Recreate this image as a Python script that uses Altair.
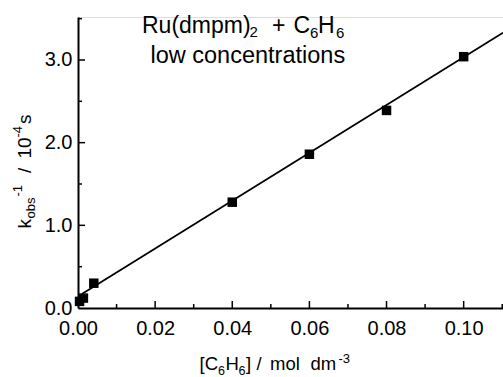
import altair as alt
import pandas as pd

# data
conc = [0.0004, 0.0014, 0.0041, 0.04, 0.06, 0.08, 0.10]
kinv = [0.08, 0.12, 0.30, 1.28, 1.86, 2.39, 3.04]
fit_x = [0.0010, 0.1102]
fit_y = [0.17, 3.33]
x_major = [0.02, 0.04, 0.06, 0.08, 0.10]
x_minor = [0.01, 0.03, 0.05, 0.07, 0.09, 0.11]
y_major = [1.0, 2.0, 3.0]
y_minor = [0.5, 1.5, 2.5, 3.5]
x_labels = [0.0, 0.02, 0.04, 0.06, 0.08, 0.10]
y_labels = [0.0, 1.0, 2.0, 3.0]

W, H = 425, 291
FONT = "Liberation Sans"
XD = [0, 0.1102]
YD = [0, 3.52]

pts = pd.DataFrame({"x": conc, "y": kinv})
fit = pd.DataFrame({"x": fit_x, "y": fit_y})

xs = alt.Scale(domain=XD, nice=False, zero=False)
ys = alt.Scale(domain=YD, nice=False, zero=False)

xaxis = alt.Axis(values=x_labels, format=".2f", title=None, tickSize=0, labelPadding=10,
                 labelFontSize=20, labelFont=FONT, labelColor="black", domainColor="black",
                 domainWidth=2, grid=False, labelFlush=False)
yaxis = alt.Axis(values=y_labels, format=".1f", title=None, tickSize=0, labelPadding=6,
                 labelFontSize=20, labelFont=FONT, labelColor="black", domainColor="black",
                 domainWidth=2, grid=False, labelFlush=False)

base_pts = alt.Chart(pts).mark_square(size=90, color="black", opacity=1).encode(
    x=alt.X("x:Q", scale=xs, axis=xaxis),
    y=alt.Y("y:Q", scale=ys, axis=yaxis),
)
line = alt.Chart(fit).mark_line(color="black", strokeWidth=1.8).encode(
    x=alt.X("x:Q", scale=xs), y=alt.Y("y:Q", scale=ys)
)

def xticks(vals, L):
    return alt.Chart(pd.DataFrame({"v": vals})).mark_rule(color="black", strokeWidth=1.5).encode(
        x=alt.X("v:Q", scale=xs), y=alt.value(H), y2=alt.value(H - L))

def yticks(vals, L):
    return alt.Chart(pd.DataFrame({"v": vals})).mark_rule(color="black", strokeWidth=1.5).encode(
        y=alt.Y("v:Q", scale=ys), x=alt.value(0), x2=alt.value(L))

def txt(s, x, y, size, angle=0):
    # x, y given in page pixels; convert to plot-area coordinates
    kw = dict(align="left", baseline="alphabetic", font=FONT, fontSize=size, color="black")
    if angle:
        kw["angle"] = angle
    return alt.Chart(pd.DataFrame({"t": [s]})).mark_text(**kw).encode(
        text="t:N", x=alt.value(x - 78), y=alt.value(y - 17))

texts = [
    # annotation
    txt("Ru(dmpm)", 142, 32.7, 23),
    txt("2", 249.5, 36.7, 15),
    txt("+", 272, 32.7, 23),
    txt("C", 293.5, 32.7, 23),
    txt("6", 310, 37.7, 15),
    txt("H", 318, 32.7, 23),
    txt("6", 336, 37.7, 15),
    txt("low concentrations", 150.5, 62.5, 23.5),
    # x title
    txt("[C", 199.5, 370, 18.5),
    txt("6", 218, 375, 12.5),
    txt("H", 225.5, 370, 18.5),
    txt("6", 238.5, 375, 12.5),
    txt("]", 246, 370, 18.5),
    txt("/", 256.5, 370, 18.5),
    txt("mol", 270, 370, 18.5),
    txt("dm", 310.5, 370, 18.5),
    txt("-3", 338.5, 363, 13),
    # y title (rotated)
    txt("k", 31, 228.5, 19, 270),
    txt("obs", 35, 218.5, 13, 270),
    txt("-1", 22, 196.5, 13, 270),
    txt("/", 31, 173, 19, 270),
    txt("10", 31, 158.5, 19, 270),
    txt("-4", 22, 137.5, 13, 270),
    txt("s", 31, 124, 19, 270),
]

chart = alt.layer(
    line, base_pts,
    xticks(x_major, 7), xticks(x_minor, 4),
    yticks(y_major, 7), yticks(y_minor, 4),
    *texts,
).properties(
    width=W, height=H,
    padding={"left": 78, "top": 17, "right": 0, "bottom": 69},
    autosize=alt.AutoSizeParams(type="none"),
).configure_view(stroke=None).configure(background="white")

chart.save("out.html", embed_options={"renderer": "svg", "actions": False})
